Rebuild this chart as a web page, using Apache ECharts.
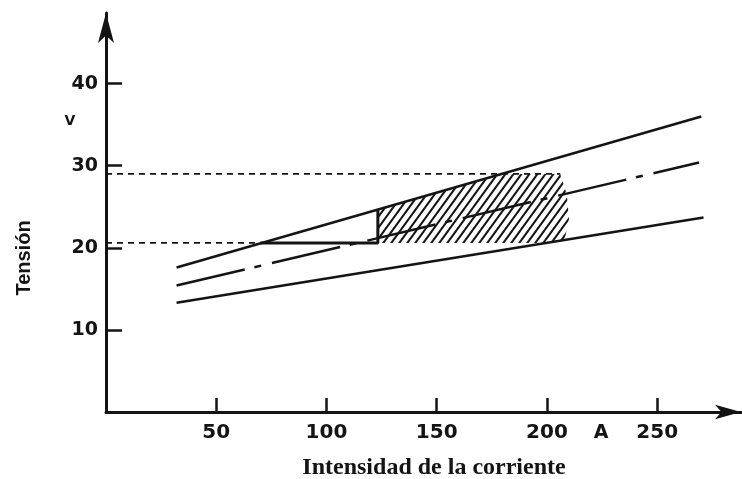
<!DOCTYPE html>
<html>
<head>
<meta charset="utf-8">
<script src="https://cdn.jsdelivr.net/npm/echarts@6/dist/echarts.min.js"></script>
<style>
	html, body { margin: 0; padding: 0; background: #fff; }
	#chart { width: 742px; height: 479px; }
</style>
</head>
<body>
<div id="chart"></div>
<script>
	// ticks
	const xTicks = [50, 100, 150, 200, 250];
	const yTicks = [10, 20, 30, 40];

	// the three characteristic lines [A, V]
	const upperLine = [[32, 17.6], [270, 36.0]];
	const middleLine = [[32, 15.4], [269, 30.4]];
	const lowerLine = [[32, 13.3], [271, 23.7]];

	// reference levels (dotted) and the edge of the working zone
	const dottedHigh = [[0, 29.0], [206, 29.0]];
	const dottedLow = [[0, 20.6], [70, 20.6]];
	const zoneEdge = [[70, 20.6], [123.3, 20.6], [123.3, 24.6]];

	// hatched working zone
	const hatchArea = [[123.3, 20.6], [123.3, 24.6], [181, 29.0], [206, 29.0], [209, 26.5], [210, 23.5], [208, 21.0], [200, 20.6]];

	const ink = '#141414';

	function makeHatch() {
		let c = document.createElement('canvas');
		c.width = 8;
		c.height = 11;
		let ctx = c.getContext('2d');
		ctx.strokeStyle = ink;
		ctx.lineWidth = 2;
		for (let k = -1; k <= 1; k++) {
			ctx.beginPath();
			ctx.moveTo(k * 8 - 4, 16.5);
			ctx.lineTo(k * 8 + 12, -5.5);
			ctx.stroke();
		}
		return c;
	}
	let hatch = { image: makeHatch(), repeat: 'repeat' };

	let tickFont = {
		color: ink,
		fontFamily: 'DejaVu Sans',
		fontWeight: 'bold'
	};

	function plain(data, width, type) {
		return {
			type: 'line',
			data: data,
			symbol: 'none',
			silent: true,
			lineStyle: { color: ink, width: width, type: type || 'solid' },
			z: 3
		};
	}

	let option = {
		backgroundColor: '#fff',
		animation: false,
		grid: {
			left: 106,
			right: 742 - 741,
			top: 13,
			bottom: 479 - 412
		},
		xAxis: {
			type: 'value',
			min: 0,
			max: 288,
			axisLine: {
				show: true,
				symbol: ['none', 'arrow'],
				symbolSize: [11, 26],
				lineStyle: { color: ink, width: 3 }
			},
			axisTick: {
				show: true,
				inside: true,
				length: 14,
				customValues: xTicks,
				lineStyle: { color: ink, width: 2.5 }
			},
			axisLabel: Object.assign({
				customValues: xTicks,
				fontSize: 20,
				margin: 11
			}, tickFont),
			splitLine: { show: false }
		},
		yAxis: {
			type: 'value',
			min: 0,
			max: 48.6,
			axisLine: {
				show: true,
				symbol: ['none', 'arrow'],
				symbolSize: [12, 30],
				lineStyle: { color: ink, width: 3 }
			},
			axisTick: {
				show: true,
				inside: true,
				length: 16,
				customValues: yTicks,
				lineStyle: { color: ink, width: 2.5 }
			},
			axisLabel: Object.assign({
				customValues: yTicks,
				fontSize: 19,
				margin: 8
			}, tickFont),
			splitLine: { show: false }
		},
		graphic: [
			{
				type: 'text', x: 24, y: 258, rotation: Math.PI / 2,
				style: { text: 'Tensión', fill: ink, font: 'bold 20px "Liberation Sans"', align: 'center', verticalAlign: 'middle' }
			},
			{
				type: 'text', x: 70, y: 121,
				style: { text: 'V', fill: ink, font: 'bold 14px "DejaVu Sans"', align: 'center', verticalAlign: 'middle' }
			},
			{
				type: 'text', x: 601, y: 433,
				style: { text: 'A', fill: ink, font: 'bold 19px "DejaVu Sans"', align: 'center', verticalAlign: 'middle' }
			},
			{
				type: 'text', x: 434, y: 468,
				style: { text: 'Intensidad de la corriente', fill: ink, font: 'bold 24px "Liberation Serif"', align: 'center', verticalAlign: 'middle' }
			}
		],
		series: [
			{
				type: 'custom',
				silent: true,
				data: [[0, 0]],
				z: 2,
				renderItem: function(params, api) {
					let pts = hatchArea.map(function(p) { return api.coord(p); });
					return {
						type: 'polygon',
						shape: { points: pts },
						style: { fill: hatch, stroke: null }
					};
				}
			},
			plain(upperLine, 2.5),
			plain(middleLine, 2.5, [70, 10, 7, 11]),
			plain(lowerLine, 2.5),
			plain(dottedHigh, 1.7, [6, 5]),
			plain(dottedLow, 1.7, [6, 5]),
			plain(zoneEdge, 3)
		]
	};

	var myChart = echarts.init(document.getElementById('chart'));
	myChart.setOption(option);
</script>
</body>
</html>
